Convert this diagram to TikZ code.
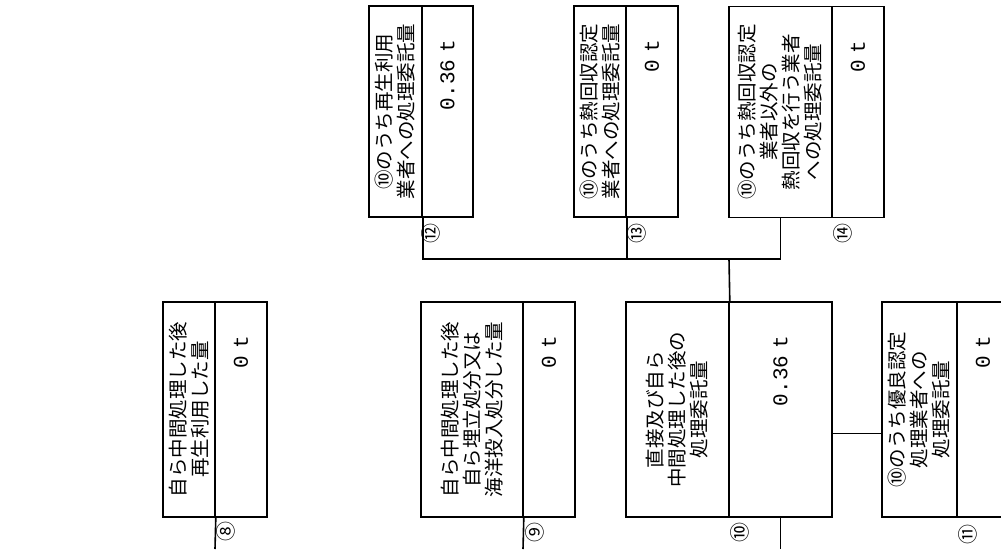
\documentclass[tikz,border=0pt]{standalone}
\usepackage{fontspec}
\newfontfamily\jpfont{Noto Sans CJK JP}
\newfontfamily\numfont{Liberation Mono}
\usetikzlibrary{calc}

\begin{document}
\begin{tikzpicture}[x=1pt,y=-1pt,line width=1.6pt,
  cell/.style={draw,rotate=90,inner sep=0pt,align=center,minimum width=215pt,font=\jpfont\fontsize{19.5}{22}\selectfont},
  qty/.style={draw,rotate=90,inner ysep=0pt,inner xsep=34pt,text width=147pt,align=right,font=\numfont\fontsize{21}{22}\selectfont},
  tag/.style={rotate=90,inner sep=0pt,font=\jpfont\fontsize{20}{20}\selectfont},
  link/.style={line width=1.6pt}]
\path[use as bounding box] (0,0) rectangle (1001,549);
\clip (0,0) rectangle (1001,549);
% lower row
\node[cell,minimum height=52pt] (b8l) at (189,409.5) {自ら中間処理した後\\再生利用した量};
\node[qty,minimum height=52pt] (b8v) at (241,409.5) {0 t};
\node[tag] (t8) at (226,531) {⑧};
\node[cell,minimum height=102pt] (b9l) at (472,409.5) {自ら中間処理した後\\自ら埋立処分又は\\海洋投入処分した量};
\node[qty,minimum height=52pt] (b9v) at (549,409.5) {0 t};
\node[tag] (t9) at (535,532) {⑨};
\node[cell,minimum height=103pt] (b10l) at (677.5,409.5) {直接及び自ら\\中間処理した後の\\処理委託量};
\node[qty,minimum height=103pt] (b10v) at (780.5,409.5) {0.36 t};
\node[tag] (t10) at (740,532) {⑩};
\node[cell,minimum height=75pt] (b11l) at (919.5,409.5) {⑩のうち優良認定\\処理業者への\\処理委託量};
\node[qty,minimum height=52pt] (b11v) at (983,409.5) {0 t};
\node[tag] (t11) at (968,534) {⑪};
% upper row
\node[cell,minimum width=211pt,minimum height=53pt] (b12l) at (395.5,111.5) {⑩のうち再生利用\\業者への処理委託量};
\node[qty,text width=143pt,minimum height=51pt] (b12v) at (447.5,111.5) {0.36 t};
\node[tag] (t12) at (431,233) {⑫};
\node[cell,minimum width=211pt,minimum height=52pt] (b13l) at (600,111.5) {⑩のうち熱回収認定\\業者への処理委託量};
\node[qty,text width=143pt,minimum height=52pt] (b13v) at (652,111.5) {0 t};
\node[tag] (t13) at (637,233) {⑬};
\node[cell,minimum width=211pt,minimum height=103pt] (b14l) at (780.5,112) {⑩のうち熱回収認定\\業者以外の\\熱回収を行う業者\\への処理委託量};
\node[qty,text width=143pt,minimum height=52pt] (b14v) at (858,112) {0 t};
\node[tag] (t14) at (843,233) {⑭};
% connectors
\coordinate (e8) at (215,549);
\coordinate (e9) at (523,549);
\coordinate (e10) at (780.5,549);
\coordinate (hub) at (729,259);
\draw[link] (b8l.south west) -- (e8);
\draw[link] (b9l.south west) -- (e9);
\draw[link] (b10v.west) -- (e10);
\draw[link] ($(b10v.south west)!.39!(b10v.south east)$) -- ($(b11l.north west)!.39!(b11l.north east)$);
\draw[link] (b12l.south west) |- (hub) -| (b14l.west);
\draw[link] (b13l.south west) -- (b13l.south west |- hub);
\draw[link] (hub) -- (b10l.south east);
\end{tikzpicture}
\end{document}
